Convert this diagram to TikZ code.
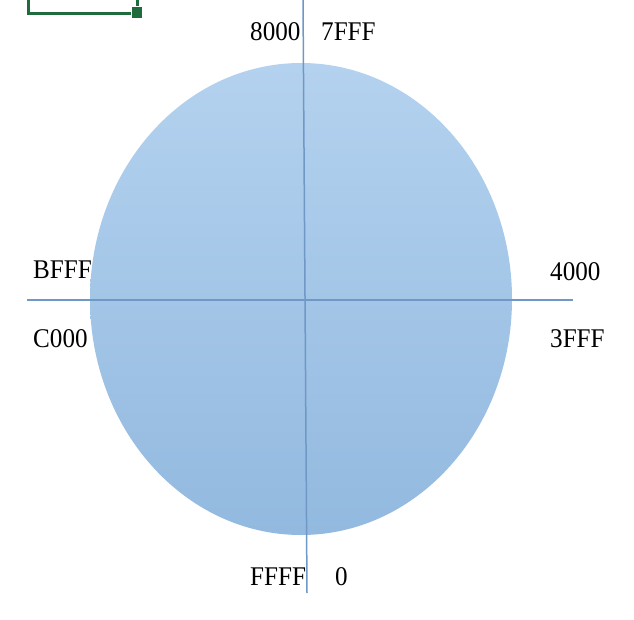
\documentclass[tikz,border=0pt]{standalone}
\usepackage{fontspec}
\setmainfont[FakeStretch=0.93]{Liberation Serif}
\definecolor{axisblue}{HTML}{6F98C6}
\definecolor{topfill}{HTML}{B4D2EF}
\definecolor{botfill}{HTML}{92B9DF}
\definecolor{selgreen}{HTML}{1E6B3C}
\tikzset{
  lbl/.style={anchor=base west, inner sep=0pt, font=\fontsize{27}{32}\selectfont, text=black},
  axis/.style={draw=axisblue, line width=1.5pt},
}
\begin{document}
\begin{tikzpicture}[x=1pt,y=-1pt]
\useasboundingbox (0,0) rectangle (634,620);
\fill[white] (0,0) rectangle (634,620);
% selection frame
\draw[selgreen, line width=3pt] (28,-10) -- (28,14) -- (137,14) -- (137,-10);
\filldraw[fill=selgreen, draw=white, line width=1pt] (131.5,6.5) rectangle (142.5,18.5);
% ellipse
\shade[top color=topfill, bottom color=botfill] (301,299) ellipse [x radius=211, y radius=236];
% axes
\coordinate (vt) at (303,0);
\coordinate (vb) at (307,593);
\coordinate (hl) at (27,300);
\coordinate (hr) at (573,300);
\draw[axis] (vt) -- (vb);
\draw[axis] (hl) -- (hr);
% labels
\node[lbl] (a) at (250,41) {8000};
\node[lbl] (b) at (321,41) {7FFF};
\node[lbl] (c) at (33,279) {BFFF};
\node[lbl] (d) at (33,347) {C000};
\node[lbl] (e) at (550,280) {4000};
\node[lbl] (f) at (550,347) {3FFF};
\node[lbl] (g) at (250,585) {FFFF};
\node[lbl] (h) at (335,585) {0};
\end{tikzpicture}
\end{document}
